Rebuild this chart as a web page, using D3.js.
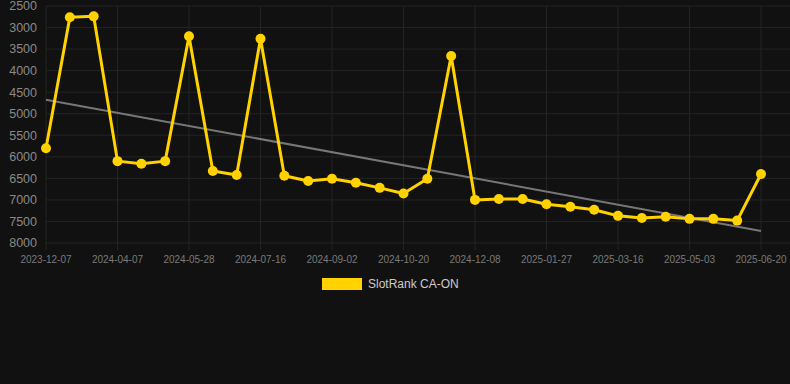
<!DOCTYPE html>
<html>
<head>
<meta charset="utf-8">
<script src="https://cdn.jsdelivr.net/npm/d3@7"></script>
<style>
  html, body { margin: 0; padding: 0; background: #111111; }
  svg { display: block; font-family: "Liberation Sans", Arial, sans-serif; }
</style>
</head>
<body>
<svg width="790" height="384"></svg>
<script>
// chart data
const dates = [
  "2023-12-07", "2024-03-05", "2024-03-22", "2024-04-07", "2024-04-24", "2024-05-11",
  "2024-05-28", "2024-06-13", "2024-06-30", "2024-07-16", "2024-08-01", "2024-08-17",
  "2024-09-02", "2024-09-18", "2024-10-04", "2024-10-20", "2024-11-05", "2024-11-22",
  "2024-12-08", "2024-12-25", "2025-01-10", "2025-01-27", "2025-02-12", "2025-02-28",
  "2025-03-16", "2025-04-01", "2025-04-17", "2025-05-03", "2025-05-19", "2025-06-04",
  "2025-06-20"
];
const ranks = [
  5800, 2760, 2740, 6100, 6160, 6100,
  3200, 6330, 6420, 3260, 6440, 6560,
  6510, 6600, 6720, 6850, 6510, 3660,
  7000, 6980, 6980, 7100, 7160, 7230,
  7370, 7420, 7390, 7440, 7440, 7480,
  6400
];
const yTicks = [2500, 3000, 3500, 4000, 4500, 5000, 5500, 6000, 6500, 7000, 7500, 8000];
const xTickLabels = dates.filter((d, i) => i % 3 === 0);
const seriesName = "SlotRank CA-ON";

// chart dimensions
const margin = { top: 6, right: 29, bottom: 141, left: 46 };
const width = 790 - margin.left - margin.right;
const height = 384 - margin.top - margin.bottom;

const x = d3.scalePoint()
  .domain(dates)
  .range([0, width]);
const y = d3.scaleLinear()
  .domain([2500, 8000])
  .range([0, height]);

const svg = d3.select("svg")
  .append("g")
  .attr("transform", "translate(" + margin.left + "," + margin.top + ")");

// grid
svg.append("g")
  .selectAll("line")
  .data(yTicks)
  .join("line")
  .attr("x1", 0)
  .attr("x2", width + margin.right)
  .attr("y1", d => y(d))
  .attr("y2", d => y(d))
  .attr("stroke", "#242424")
  .attr("stroke-width", 1);
svg.append("g")
  .selectAll("line")
  .data(xTickLabels)
  .join("line")
  .attr("x1", d => x(d))
  .attr("x2", d => x(d))
  .attr("y1", 0)
  .attr("y2", height + 7)
  .attr("stroke", "#242424")
  .attr("stroke-width", 1);

// y axis labels
svg.append("g")
  .selectAll("text")
  .data(yTicks)
  .join("text")
  .attr("x", -9)
  .attr("y", d => y(d))
  .attr("dy", "0.35em")
  .attr("text-anchor", "end")
  .attr("font-size", 12.5)
  .attr("fill", "#8a8a8a")
  .text(d => d);

// x axis labels
svg.append("g")
  .selectAll("text")
  .data(xTickLabels)
  .join("text")
  .attr("x", d => x(d))
  .attr("y", height + 20)
  .attr("text-anchor", "middle")
  .attr("font-size", 10)
  .attr("fill", "#7a7a7a")
  .text(d => d);

// trend line (least squares over index)
const n = ranks.length;
const mx = d3.mean(d3.range(n));
const my = d3.mean(ranks);
const slope = d3.sum(d3.range(n), i => (i - mx) * (ranks[i] - my)) /
  d3.sum(d3.range(n), i => (i - mx) * (i - mx));
const icpt = my - slope * mx;
svg.append("line")
  .attr("x1", x(dates[0]))
  .attr("x2", x(dates[n - 1]))
  .attr("y1", y(icpt))
  .attr("y2", y(icpt + slope * (n - 1)))
  .attr("stroke", "#777777")
  .attr("stroke-width", 2);

// series line
const line = d3.line()
  .x((d, i) => x(dates[i]))
  .y(d => y(d));
svg.append("path")
  .datum(ranks)
  .attr("d", line)
  .attr("fill", "none")
  .attr("stroke", "#ffd200")
  .attr("stroke-width", 3)
  .attr("stroke-linejoin", "round");

svg.append("g")
  .selectAll("circle")
  .data(ranks)
  .join("circle")
  .attr("cx", (d, i) => x(dates[i]))
  .attr("cy", d => y(d))
  .attr("r", 5)
  .attr("fill", "#ffd200");

// legend
const legend = d3.select("svg").append("g")
  .attr("transform", "translate(322,278)");
legend.append("rect")
  .attr("width", 40)
  .attr("height", 12)
  .attr("fill", "#ffd200");
legend.append("text")
  .attr("x", 46)
  .attr("y", 6)
  .attr("dy", "0.35em")
  .attr("font-size", 12)
  .attr("fill", "#cccccc")
  .text(seriesName);
</script>
</body>
</html>
